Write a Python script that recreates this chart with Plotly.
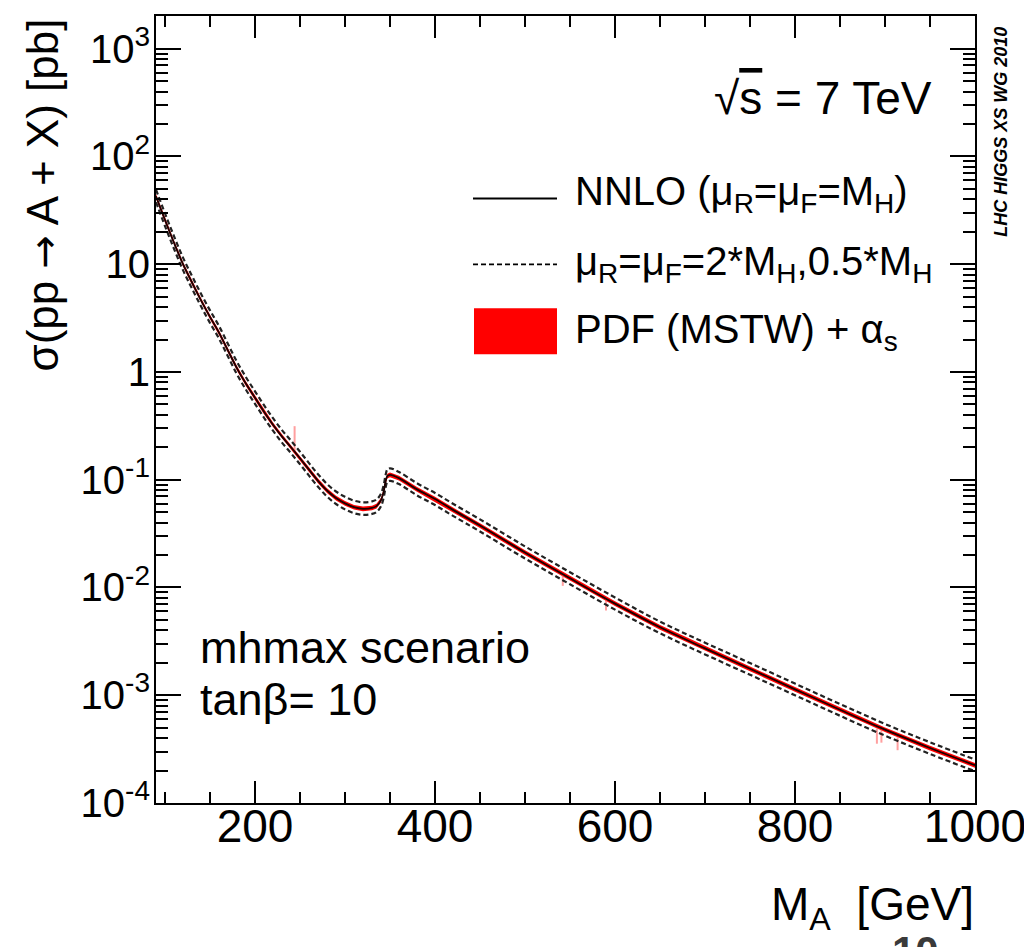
import plotly.graph_objects as go

# ---------------- data ----------------
mass = [90, 100, 110, 120, 130, 140, 150, 160, 170, 180, 190, 200, 210, 220, 230,
        240, 250, 260, 270, 280, 290, 300, 310, 320, 330, 335, 340, 343, 345, 347,
        350, 360, 380, 400, 420, 450, 500, 550, 600, 650, 700, 750, 800, 850, 900,
        950, 1000]
# NNLO central cross section [pb]
xsec = [42.7, 25.7, 15.8, 10.0, 6.76, 4.62, 3.24, 2.32, 1.58, 1.08, 0.776, 0.575,
        0.427, 0.324, 0.251, 0.200, 0.158, 0.124, 0.0977, 0.0794, 0.0676, 0.0603,
        0.0556, 0.0537, 0.0547, 0.0569, 0.0646, 0.0776, 0.0955, 0.108, 0.111,
        0.1035, 0.0813, 0.0661, 0.0525, 0.0376, 0.0211, 0.01216, 0.00708, 0.00427,
        0.00272, 0.00176, 0.001135, 0.000733, 0.000479, 0.000324, 0.000224]
# scale variation (muR=muF=2*MH, 0.5*MH) in percent
scale_up_pct = [15, 15, 15, 15, 15, 15, 15, 15, 15, 15, 15, 15, 15, 15, 15, 15, 15,
                15, 15, 15, 15, 15, 15, 15, 15, 15, 15, 15, 15, 15, 15, 14, 14, 14,
                14, 14, 14, 14, 14, 13, 13, 13, 13, 13, 13, 13, 13]
scale_dn_pct = [12, 12, 12, 12, 12, 12, 12, 12, 12, 12, 12, 12, 12, 12, 12, 12, 12,
                12, 12, 12, 12, 12, 12, 12, 12, 12, 12, 12, 12, 12, 12, 12, 12, 12,
                12, 12, 12, 12, 12, 12, 12, 12, 12, 12, 12, 12, 12]
# PDF + alpha_s band half width in percent
pdf_pct = [5, 5, 5, 5, 5, 5, 5, 5, 5, 5, 5, 5, 5, 5, 5, 5, 5, 5, 5, 5, 5,
           5, 5, 5, 5, 5, 5, 5, 5, 5, 5, 5, 5, 5, 5, 5, 5, 5, 5, 5, 5, 5,
           5, 5, 5, 5, 5]
# isolated glitches of the PDF band
spike_mass = [244, 542, 590, 891, 896, 914]
spike_lo = [0.184, 0.01035, 0.0061, 0.000355, 0.000363, 0.000309]
spike_hi = [0.314, 0.0132, 0.00794, 0.00049, 0.000479, 0.000407]

y_tickvals = [1e-4, 1e-3, 1e-2, 1e-1, 1, 10, 100, 1000]
y_ticktext = ["10<sup>-4</sup>", "10<sup>-3</sup>", "10<sup>-2</sup>", "10<sup>-1</sup>",
              "1", "10", "10<sup>2</sup>", "10<sup>3</sup>"]
x_tickvals = [200, 400, 600, 800, 1000]

# ---------------- figure ----------------
FONT = "Liberation Sans, Arial, Helvetica, sans-serif"
OFF = 8                      # default page (body) margin of the html page
W, H = 1032 - OFF, 947 - OFF
L, T = 156 - OFF, 14 - OFF    # plot area in page pixels: x 156..975, y 14..803
PW, PH = 975 - 156, 803 - 14
R, B = W - L - PW, H - T - PH


def xp(px):   # page pixel -> paper x
    return (px - OFF - L) / PW


def yp(py):   # page pixel -> paper y
    return (T + PH - (py - OFF)) / PH


pdf_up = [v * (1 + p / 100) for v, p in zip(xsec, pdf_pct)]
pdf_dn = [v * (1 - p / 100) for v, p in zip(xsec, pdf_pct)]
sc_up = [v * (1 + p / 100) for v, p in zip(xsec, scale_up_pct)]
sc_dn = [v * (1 - p / 100) for v, p in zip(xsec, scale_dn_pct)]

fig = go.Figure()
fig.add_trace(go.Scatter(x=mass + mass[::-1], y=pdf_up + pdf_dn[::-1], fill="toself",
                         fillcolor="#ff0000", line=dict(width=0), mode="lines",
                         hoverinfo="skip", showlegend=False))
sx, sy = [], []
for m, lo, hi in zip(spike_mass, spike_lo, spike_hi):
    sx += [m, m, None]
    sy += [lo, hi, None]
fig.add_trace(go.Scatter(x=sx, y=sy, mode="lines",
                         line=dict(color="rgba(255,80,80,0.55)", width=2),
                         showlegend=False, hoverinfo="skip"))
for band in (sc_up, sc_dn):
    fig.add_trace(go.Scatter(x=mass, y=band, mode="lines", line_shape="spline",
                             line=dict(color="#222222", width=2.2, dash="5px,3px"),
                             showlegend=False))
fig.add_trace(go.Scatter(x=mass, y=xsec, mode="lines", line_shape="spline",
                         line=dict(color="#1a0000", width=1.8), showlegend=False))

axis_common = dict(showline=True, linecolor="black", linewidth=2, mirror="ticks",
                   ticks="inside", tickcolor="black", tickwidth=2, showgrid=False,
                   zeroline=False)
fig.update_xaxes(range=[90, 1000], tickmode="array", tickvals=x_tickvals,
                 ticklen=22, tickfont=dict(family=FONT, size=46, color="black"),
                 minor=dict(ticks="inside", ticklen=11, tickwidth=2, tickcolor="black",
                            dtick=50, tick0=0, showgrid=False),
                 ticklabelstandoff=-18, **axis_common)
fig.update_yaxes(type="log", range=[-4, 3.303], tickmode="array", tickvals=y_tickvals,
                 ticktext=y_ticktext, ticklen=25,
                 tickfont=dict(family=FONT, size=40, color="black"),
                 minor=dict(ticks="inside", ticklen=12, tickwidth=2, tickcolor="black",
                            dtick="D1", showgrid=False),
                 ticklabelstandoff=-4, **axis_common)

ann = []
txt = dict(family=FONT, color="black")
ann.append(dict(x=xp(42), y=yp(15), xref="paper", yref="paper", xanchor="center",
                yanchor="top", textangle=-90, showarrow=False,
                text="σ(pp <span style='font-family:DejaVu Sans;font-size:40px'>→</span> A + X) [pb]",
                font=dict(size=44, **txt)))
ann.append(dict(x=xp(976), y=yp(908), xref="paper", yref="paper", xanchor="right",
                yanchor="middle", showarrow=False, text="M<sub>A</sub>  [GeV]",
                font=dict(size=46, **txt)))
ann.append(dict(x=xp(934), y=yp(96), xref="paper", yref="paper", xanchor="right",
                yanchor="middle", showarrow=False,
                text="√<span style='text-decoration:overline'>s</span> = 7 TeV",
                font=dict(size=46, **txt)))
ann.append(dict(x=xp(573), y=yp(192), xref="paper", yref="paper", xanchor="left",
                yanchor="middle", showarrow=False,
                text="NNLO (μ<sub>R</sub>=μ<sub>F</sub>=M<sub>H</sub>)",
                font=dict(size=40, **txt)))
ann.append(dict(x=xp(573), y=yp(263), xref="paper", yref="paper", xanchor="left",
                yanchor="middle", showarrow=False,
                text="μ<sub>R</sub>=μ<sub>F</sub>=2*M<sub>H</sub>,0.5*M<sub>H</sub>",
                font=dict(size=40, **txt)))
ann.append(dict(x=xp(573), y=yp(331), xref="paper", yref="paper", xanchor="left",
                yanchor="middle", showarrow=False,
                text="PDF (MSTW) + α<sub>s</sub>", font=dict(size=40, **txt)))
ann.append(dict(x=xp(198), y=yp(647), xref="paper", yref="paper", xanchor="left",
                yanchor="middle", showarrow=False, text="mhmax scenario",
                font=dict(size=45, **txt)))
ann.append(dict(x=xp(198), y=yp(699), xref="paper", yref="paper", xanchor="left",
                yanchor="middle", showarrow=False, text="tanβ= 10",
                font=dict(size=45, **txt)))
ann.append(dict(x=xp(1001), y=yp(130), xref="paper", yref="paper", xanchor="center",
                yanchor="middle", textangle=-90, showarrow=False,
                text="<b><i>LHC HIGGS XS WG 2010</i></b>", font=dict(size=18, **txt)))
ann.append(dict(x=xp(915), y=yp(926), xref="paper", yref="paper", xanchor="center",
                yanchor="top", showarrow=False, text="<b>10</b>",
                font=dict(size=42, family=FONT, color="#3a3a3a")))

shapes = [
    dict(type="line", xref="paper", yref="paper", x0=xp(473), x1=xp(557),
         y0=yp(197), y1=yp(197), line=dict(color="black", width=2)),
    dict(type="line", xref="paper", yref="paper", x0=xp(473), x1=xp(557),
         y0=yp(263), y1=yp(263), line=dict(color="black", width=1.8, dash="5px,3px")),
    dict(type="rect", xref="paper", yref="paper", x0=xp(474), x1=xp(557),
         y0=yp(353), y1=yp(307), line=dict(width=0), fillcolor="#ff0000"),
]

fig.update_layout(width=W, height=H, margin=dict(l=L, r=R, t=T, b=B),
                  plot_bgcolor="white", paper_bgcolor="white", annotations=ann,
                  shapes=shapes, showlegend=False, font=dict(family=FONT))
fig.write_html("out.html")
